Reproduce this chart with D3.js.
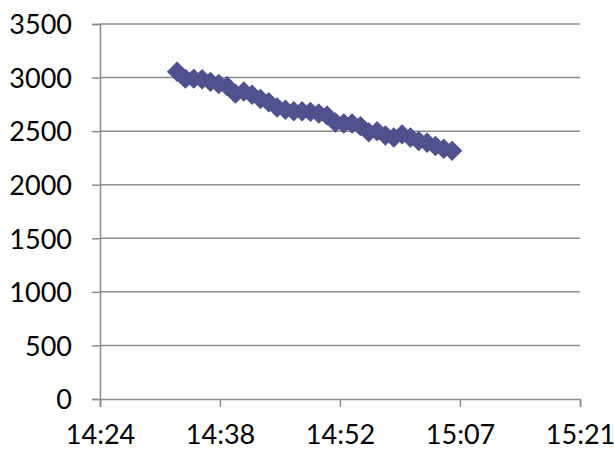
<!DOCTYPE html>
<html>
<head>
<meta charset="utf-8">
<script src="https://cdn.jsdelivr.net/npm/d3@7"></script>
<style>
  body { margin: 0; background: #fff; }
  .tickLabel { font-family: Lato, "Open Sans", sans-serif; font-size: 27px; fill: #000; }
</style>
</head>
<body>
<div id="chart"></div>
<script>

// data
var times = [
  "14:33:15", "14:34:15", "14:35:15", "14:36:15", "14:37:15", "14:38:15",
  "14:39:15", "14:40:15", "14:41:15", "14:42:15", "14:43:15", "14:44:15",
  "14:45:15", "14:46:15", "14:47:15", "14:48:15", "14:49:15", "14:50:15",
  "14:51:15", "14:52:15", "14:53:15", "14:54:15", "14:55:15", "14:56:15",
  "14:57:15", "14:58:15", "14:59:15", "15:00:15", "15:01:15", "15:02:15",
  "15:03:15", "15:04:15", "15:05:15", "15:06:15"
];
var values = [
  3055, 2990, 2990, 2985, 2960, 2940,
  2920, 2850, 2870, 2840, 2800, 2770,
  2720, 2700, 2685, 2685, 2680, 2665,
  2645, 2580, 2572, 2572, 2547, 2490,
  2500, 2460, 2440, 2470, 2440, 2408,
  2392, 2362, 2336, 2316
];

// axis ticks
var xTicks = ["14:24:00", "14:38:24", "14:52:48", "15:07:12", "15:21:36"];
var xDomain = ["14:24:00", "15:21:36"];
var yTicks = [0, 500, 1000, 1500, 2000, 2500, 3000, 3500];

var width = 614;
var height = 451;
var plotLeft = 100;
var plotRight = 580;
var plotTop = 24;
var plotBottom = 399;
var radius = 9.5;
var gray = "#8c8c8c";
var markColor = "#50508c";

var parseT = d3.timeParse("%H:%M:%S");
var fmtT = d3.timeFormat("%H:%M");

var data = times.map(function(t, i) {
  return { t: parseT(t), v: values[i] };
});

var svg = d3
  .select("#chart")
  .append("svg")
  .attr("width", width)
  .attr("height", height);

var xScale = d3
  .scaleTime()
  .domain(xDomain.map(parseT))
  .range([plotLeft, plotRight]);

var yScale = d3
  .scaleLinear()
  .domain([0, 3500])
  .range([plotBottom, plotTop]);

// gridlines
svg.append("g")
  .selectAll("line")
  .data(yTicks.slice(1))
  .enter()
  .append("line")
  .attr("x1", plotLeft)
  .attr("x2", plotRight)
  .attr("y1", function(d) { return yScale(d); })
  .attr("y2", function(d) { return yScale(d); })
  .attr("stroke", gray)
  .attr("stroke-width", 1.5);

// y axis
var yAxis = d3.axisLeft(yScale)
  .tickValues(yTicks)
  .tickFormat(d3.format("d"))
  .tickSize(8)
  .tickPadding(20);

var yG = svg.append("g")
  .attr("transform", "translate(" + plotLeft + ",0)")
  .call(yAxis);

// x axis
var xAxis = d3.axisBottom(xScale)
  .tickValues(xTicks.map(parseT))
  .tickFormat(fmtT)
  .tickSize(8)
  .tickPadding(15);

var xG = svg.append("g")
  .attr("transform", "translate(0," + plotBottom + ")")
  .call(xAxis);

[xG, yG].forEach(function(g) {
  g.select(".domain").attr("stroke", gray).attr("stroke-width", 1.5);
  g.selectAll(".tick line").attr("stroke", gray).attr("stroke-width", 1.5);
  g.selectAll(".tick text")
    .attr("class", "tickLabel")
    .attr("fill", "#000");
});
yG.selectAll(".tick text").attr("dy", "0.36em");
xG.selectAll(".tick text").attr("dy", "0.8em");

// diamond markers
var diamond = d3.symbol().type(d3.symbolSquare).size(radius * radius * 2);

svg.append("g")
  .selectAll("path")
  .data(data)
  .enter()
  .append("path")
  .attr("d", diamond)
  .attr("transform", function(d) {
    return "translate(" + xScale(d.t) + "," + yScale(d.v) + ")rotate(45)";
  })
  .attr("fill", markColor)
  .attr("stroke", markColor)
  .attr("stroke-width", 1);

</script>
</body>
</html>
